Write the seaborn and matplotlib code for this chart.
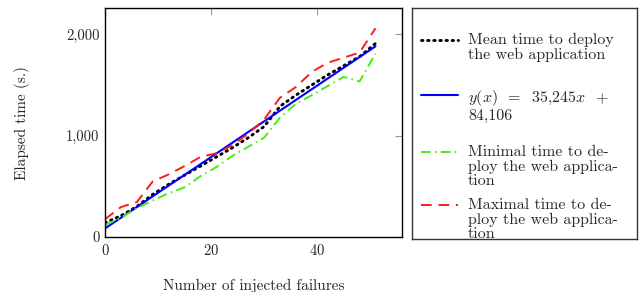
import pandas as pd
import seaborn as sns
import matplotlib.pyplot as plt
from matplotlib.ticker import FuncFormatter

# values
failures = [0, 3, 6, 9, 12, 15, 18, 21, 24, 27, 30, 33, 36, 39, 42, 45, 48, 51]
mean_time = [140, 210, 300, 420, 520, 610, 700, 790, 880, 980, 1090, 1290, 1400, 1500, 1600, 1690, 1780, 1910]
min_time = [118, 190, 285, 360, 432, 490, 600, 690, 800, 890, 980, 1180, 1315, 1400, 1490, 1580, 1535, 1810]
max_time = [175, 295, 345, 548, 618, 700, 790, 826, 905, 1020, 1160, 1375, 1480, 1630, 1720, 1770, 1820, 2060]
fit_x = [0, 51]
fit_y = [84.106, 1881.6]

labels = [
    "Mean time to deploy\nthe web application",
    "$y(x)$  =  35,245$x$  +\n84,106",
    "Minimal time to de-\nploy the web applica-\ntion",
    "Maximal time to de-\nploy the web applica-\ntion",
]

sns.set_theme(style="white")
plt.rcParams["font.family"] = ["cmr10", "DejaVu Serif"]
plt.rcParams["mathtext.fontset"] = "cm"
plt.rcParams["axes.formatter.use_mathtext"] = True

W, H = 642, 292
fig = plt.figure(figsize=(W / 100, H / 100), dpi=100)
ax = fig.add_axes([105 / W, (H - 237) / H, (402 - 105) / W, (237 - 8) / H])

df = pd.DataFrame({"x": failures, "mean": mean_time, "min": min_time, "max": max_time})
fit = pd.DataFrame({"x": fit_x, "y": fit_y})

styles = {
    "mean": dict(color="black", lw=2.1, dashes=(0.5, 1.6), dash_capstyle="round"),
    "fit": dict(color="#0000ff", lw=1.5, linestyle="-"),
    "min": dict(color="#44ee11", lw=1.4, dashes=(5, 2.2, 0.8, 2.2)),
    "max": dict(color="#ff1a1a", lw=1.4, dashes=(5.5, 3.5)),
}

sns.lineplot(data=df, x="x", y="mean", ax=ax, **styles["mean"])
sns.lineplot(data=fit, x="x", y="y", ax=ax, **styles["fit"])
sns.lineplot(data=df, x="x", y="min", ax=ax, **styles["min"])
sns.lineplot(data=df, x="x", y="max", ax=ax, **styles["max"])

ax.set_xlim(0, 56)
ax.set_ylim(0, 2260)
ax.set_xticks([0, 20, 40])
ax.set_yticks([0, 1000, 2000])
ax.yaxis.set_major_formatter(FuncFormatter(lambda v, p: f"{v:,.0f}"))
ax.tick_params(direction="in", length=5, width=0.8, color="#999999",
               top=True, right=True, labelsize=10.5, pad=4)
for s in ax.spines.values():
    s.set_color("black")
    s.set_linewidth(1.0)
ax.set_xlabel("Number of injected failures", fontsize=11, labelpad=15)
ax.set_ylabel("Elapsed time (s.)", fontsize=11, labelpad=26)

# legend box to the right of the plot
lax = fig.add_axes([412 / W, (H - 239) / H, 225 / W, 231 / H])
lax.set_xlim(0, 225)
lax.set_ylim(231, 0)
lax.set_xticks([])
lax.set_yticks([])
lax.set_facecolor("white")
for s in lax.spines.values():
    s.set_color("#333333")
    s.set_linewidth(1.0)

keys = ["mean", "fit", "min", "max"]
rows = [32, 87, 144, 197]
for k, yy, lab in zip(keys, rows, labels):
    lax.plot([9, 46], [yy, yy], **styles[k])
    lax.text(56, yy - 7, lab, fontsize=11.5, va="top", ha="left",
             linespacing=1.08, clip_on=False)

fig.savefig("out.png", dpi=100)
